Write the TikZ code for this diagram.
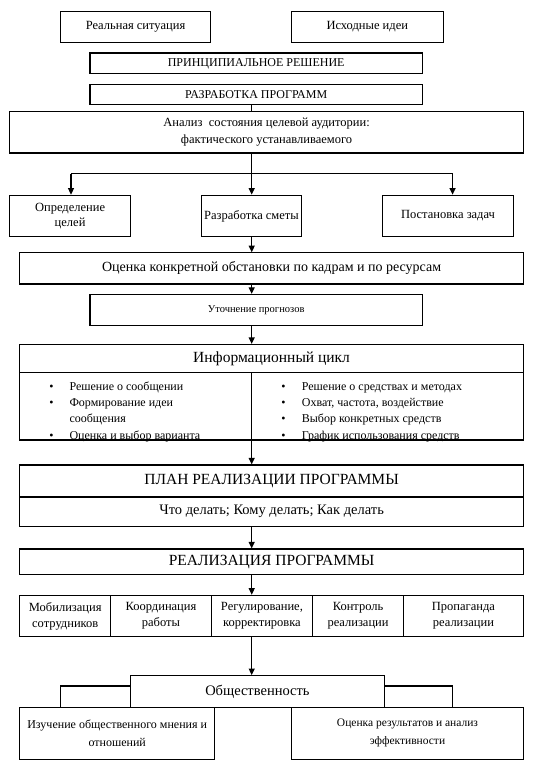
\documentclass[tikz,border=0pt]{standalone}
\usepackage{fontspec}
\setmainfont{Liberation Serif}
\usetikzlibrary{arrows.meta}
\newcommand\fsz[2]{\fontsize{#1pt}{#2pt}\selectfont}
\tikzset{
  bx/.style={draw, line width=1.15pt, inner sep=1pt, align=center},
  arr/.style={line width=1.15pt, -{Triangle[length=6.5pt,width=6pt]}},
  ln/.style={line width=1.15pt},
  bul/.style={anchor=base, inner sep=0pt, font=\fsz{12}{14}},
  btxt/.style={anchor=base west, inner sep=0pt, font=\fsz{12}{14}},
}
\begin{document}
\begin{tikzpicture}[x=1pt,y=-1pt]
\useasboundingbox[fill=white] (0,0) rectangle (543,764);
% top
\node[bx, minimum width=150pt, minimum height=31pt, font=\fsz{12.5}{15}] (real) at (135.5,26.8) {Реальная ситуация};
\node[bx, minimum width=151.7pt, minimum height=31pt, font=\fsz{12.5}{15}] (idei) at (367.3,26.8) {Исходные идеи};
\node[bx, minimum width=332.4pt, minimum height=20.8pt, font=\fsz{12}{14}] (princ) at (256.2,63.4) {ПРИНЦИПИАЛЬНОЕ РЕШЕНИЕ};
\node[bx, minimum width=332.4pt, minimum height=20.8pt, font=\fsz{12}{14}] (razr) at (256.2,94.5) {РАЗРАБОТКА ПРОГРАММ};
\node[bx, minimum width=513.8pt, minimum height=41.6pt, font=\fsz{12.5}{16.5}] (anal) at (266.6,132.2) {Анализ\ \ состояния целевой аудитории:\\фактического устанавливаемого};
\node[bx, minimum width=120.8pt, minimum height=41.6pt, font=\fsz{12.5}{15}] (opr) at (70.1,216) {Определение\\целей};
\node[bx, minimum width=99.3pt, minimum height=41.6pt, font=\fsz{12.5}{15}] (smeta) at (251.5,216) {Разработка сметы};
\node[bx, minimum width=130.9pt, minimum height=41.6pt, font=\fsz{12.5}{15}] (zadach) at (448,216) {Постановка задач};
\node[bx, minimum width=503.8pt, minimum height=31.2pt, font=\fsz{14}{16}] (ocenka) at (271.6,268.4) {Оценка конкретной обстановки по кадрам и по ресурсам};
\node[bx, minimum width=332.4pt, minimum height=31.1pt, font=\fsz{10.5}{13}] (utoch) at (256.2,310) {Уточнение прогнозов};
% info cycle
\node[bx, minimum width=503.8pt, minimum height=28.4pt, font=\fsz{15.5}{18}] (ihead) at (271.6,358.7) {Информационный цикл};
\node[bx, minimum width=503.8pt, minimum height=67.1pt] (ibody) at (271.6,406.45) {};
\coordinate (col) at (251.7,0);
\draw[ln] (ibody.north -| col) -- (ibody.south -| col);
\begin{scope}
\clip (ibody.north west) rectangle ([yshift=-4.5pt]ibody.south east);
\node[bul] (b1) at (51.5,390.5) {•};
\node[btxt] (t1) at (69.3,390.5) {Решение о сообщении};
\node[bul] (b2) at (51.5,406.3) {•};
\node[btxt] (t2) at (69.3,406.3) {Формирование идеи};
\node[btxt] (t3) at (69.3,422) {сообщения};
\node[bul] (b4) at (51.5,439) {•};
\node[btxt] (t4) at (69.3,439) {Оценка и выбор варианта};
\node[bul] (b5) at (283.5,390.5) {•};
\node[btxt] (t5) at (301.7,390.5) {Решение о средствах и методах};
\node[bul] (b6) at (283.5,406.3) {•};
\node[btxt] (t6) at (301.7,406.3) {Охват, частота, воздействие};
\node[bul] (b7) at (283.5,422) {•};
\node[btxt] (t7) at (301.7,422) {Выбор конкретных средств};
\node[bul] (b8) at (283.5,439) {•};
\node[btxt] (t8) at (301.7,439) {График использования средств};
\end{scope}
% plan
\node[bx, minimum width=503.8pt, minimum height=32pt, font=\fsz{15.5}{18}] (ptop) at (271.6,481) {ПЛАН РЕАЛИЗАЦИИ ПРОГРАММЫ};
\node[bx, minimum width=503.8pt, minimum height=29.6pt, font=\fsz{14.5}{17}] (pbot) at (271.6,511.8) {Что делать; Кому делать; Как делать};
\node[bx, minimum width=503.8pt, minimum height=25.5pt, font=\fsz{15.5}{18}] (real2) at (271.6,561.75) {РЕАЛИЗАЦИЯ ПРОГРАММЫ};
% row
\node[bx, minimum width=91.1pt, minimum height=41.6pt, font=\fsz{12.5}{16}] (c1) at (65.25,616.1) {Мобилизация\\сотрудников};
\node[bx, minimum width=100.4pt, minimum height=41.6pt, font=\fsz{12.5}{16}] (c2) at (161,616.1) {Координация\\работы};
\node[bx, minimum width=101.5pt, minimum height=41.6pt, font=\fsz{12.5}{16}] (c3) at (261.95,616.1) {Регулирование,\\корректировка};
\node[bx, minimum width=90.7pt, minimum height=41.6pt, font=\fsz{12.5}{16}] (c4) at (358.05,616.1) {Контроль\\реализации};
\node[bx, minimum width=120.1pt, minimum height=41.6pt, font=\fsz{12.5}{16}] (c5) at (463.45,616.1) {Пропаганда\\реализации};
% bottom
\node[bx, minimum width=253.8pt, minimum height=31.8pt, font=\fsz{14.5}{17}] (obsh) at (257.4,691.5) {Общественность};
\node[bx, minimum width=195pt, minimum height=52pt, font=\fsz{12}{18}] (izuch) at (117.2,733.4) {Изучение общественного мнения и\\отношений};
\node[bx, minimum width=232pt, minimum height=52pt, font=\fsz{11.5}{18}] (ocres) at (407.5,733.4) {Оценка результатов и анализ\\эффективности};
% connectors
\draw[ln] (razr.south -| col) -- (anal.north -| col);
\draw[arr] (anal.south -| col) -- (smeta.north -| col);
\coordinate (hl) at (71,173.8);
\coordinate (hr) at (452.6,173.8);
\draw[ln] (hl) -- (hr);
\draw[arr] (hl) -- (opr.north -| hl);
\draw[arr] (hr) -- (zadach.north -| hr);
\draw[arr] (smeta.south -| col) -- (ocenka.north -| col);
\draw[arr] (ocenka.south -| col) -- (utoch.north -| col);
\draw[arr] (utoch.south -| col) -- (ihead.north -| col);
\draw[arr] (ibody.south -| col) -- (ptop.north -| col);
\draw[arr] (pbot.south -| col) -- (real2.north -| col);
\draw[arr] (real2.south -| col) -- (c3.north -| col);
\draw[arr] (c3.south -| col) -- (obsh.north -| col);
\coordinate (lk) at (60.6,686);
\coordinate (rk) at (452.6,686);
\draw[ln] (obsh.west |- lk) -| (izuch.north -| lk);
\draw[ln] (obsh.east |- rk) -| (ocres.north -| rk);
\end{tikzpicture}
\end{document}
